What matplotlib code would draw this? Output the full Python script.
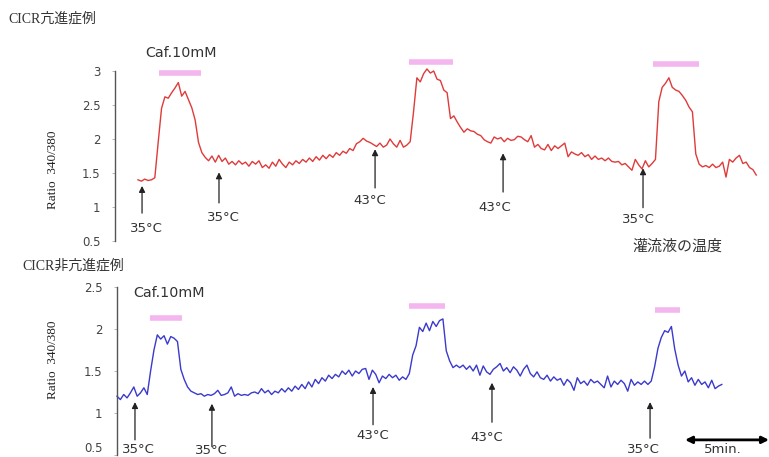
import numpy as np
import matplotlib
matplotlib.use("Agg")
import matplotlib.pyplot as plt

# ---------------- data ----------------
sample_interval_min = 0.2
top_start_min = 1.37
bottom_start_min = 0.0

top_ratio = [
    1.40, 1.38, 1.41, 1.39, 1.40, 1.43, 1.95, 2.45, 2.62, 2.60,
    2.68, 2.75, 2.83, 2.63, 2.70, 2.58, 2.46, 2.28, 1.95, 1.80,
    1.73, 1.68, 1.75, 1.66, 1.76, 1.67, 1.72, 1.63, 1.67, 1.62,
    1.68, 1.63, 1.66, 1.60, 1.67, 1.63, 1.68, 1.58, 1.62, 1.57,
    1.66, 1.60, 1.70, 1.63, 1.58, 1.66, 1.62, 1.68, 1.64, 1.70,
    1.66, 1.72, 1.67, 1.74, 1.69, 1.76, 1.71, 1.77, 1.73, 1.80,
    1.76, 1.82, 1.79, 1.86, 1.83, 1.93, 1.96, 2.01, 1.97, 1.95,
    1.92, 1.89, 1.94, 1.88, 1.91, 2.00, 1.93, 1.88, 1.98, 1.88,
    1.91, 1.96, 2.40, 2.90, 2.84, 2.96, 3.03, 2.97, 3.00, 2.88,
    2.86, 2.72, 2.68, 2.30, 2.34, 2.25, 2.17, 2.10, 2.15, 2.12,
    2.11, 2.07, 2.05, 1.99, 1.96, 1.94, 2.03, 2.00, 2.02, 1.96,
    2.01, 1.98, 1.99, 2.04, 2.03, 1.99, 1.96, 2.05, 1.88, 1.92,
    1.86, 1.84, 1.92, 1.83, 1.90, 1.86, 1.90, 1.94, 1.74, 1.81,
    1.78, 1.76, 1.80, 1.74, 1.77, 1.70, 1.75, 1.70, 1.72, 1.68,
    1.72, 1.67, 1.66, 1.67, 1.62, 1.64, 1.59, 1.54, 1.70, 1.62,
    1.56, 1.68, 1.59, 1.64, 1.70, 2.55, 2.76, 2.82, 2.90, 2.76,
    2.72, 2.70, 2.64, 2.57, 2.47, 2.40, 1.78, 1.63, 1.59, 1.61,
    1.58, 1.63, 1.58, 1.60, 1.66, 1.44, 1.70, 1.66, 1.72, 1.76,
    1.64, 1.66, 1.58, 1.55, 1.47,
]

bottom_ratio = [
    1.20, 1.16, 1.22, 1.18, 1.24, 1.31, 1.20, 1.24, 1.30, 1.22,
    1.50, 1.75, 1.93, 1.88, 1.92, 1.82, 1.91, 1.89, 1.85, 1.52,
    1.40, 1.31, 1.26, 1.24, 1.22, 1.23, 1.20, 1.22, 1.21, 1.23,
    1.27, 1.21, 1.22, 1.24, 1.31, 1.20, 1.23, 1.21, 1.22, 1.21,
    1.24, 1.25, 1.23, 1.29, 1.24, 1.27, 1.22, 1.26, 1.24, 1.29,
    1.25, 1.30, 1.26, 1.32, 1.28, 1.34, 1.29, 1.37, 1.31, 1.40,
    1.35, 1.42, 1.38, 1.45, 1.41, 1.46, 1.43, 1.50, 1.46, 1.51,
    1.44, 1.50, 1.47, 1.52, 1.53, 1.40, 1.51, 1.46, 1.36, 1.44,
    1.41, 1.46, 1.42, 1.45, 1.39, 1.43, 1.40, 1.47, 1.69, 1.80,
    2.02, 1.97, 2.07, 1.98, 2.09, 2.03, 2.10, 2.12, 1.74, 1.62,
    1.54, 1.57, 1.54, 1.57, 1.52, 1.56, 1.50, 1.57, 1.45, 1.56,
    1.49, 1.46, 1.52, 1.55, 1.59, 1.50, 1.54, 1.48, 1.55, 1.51,
    1.44, 1.52, 1.57, 1.47, 1.43, 1.49, 1.42, 1.40, 1.45, 1.38,
    1.43, 1.39, 1.41, 1.33, 1.40, 1.36, 1.27, 1.42, 1.35, 1.38,
    1.33, 1.40, 1.36, 1.38, 1.34, 1.30, 1.44, 1.31, 1.38, 1.34,
    1.39, 1.35, 1.26, 1.40, 1.33, 1.37, 1.34, 1.38, 1.34, 1.38,
    1.55, 1.77, 1.90, 1.98, 1.96, 2.03, 1.76, 1.57, 1.44, 1.50,
    1.37, 1.42, 1.33, 1.40, 1.34, 1.37, 1.30, 1.39, 1.29, 1.32,
    1.34,
]

top_ticks = [0.5, 1, 1.5, 2, 2.5, 3]
top_tick_labels = ["0.5", "1", "1.5", "2", "2.5", "3"]
bottom_ticks = [0.5, 1, 1.5, 2, 2.5]
bottom_tick_labels = ["0.5", "1", "1.5", "2", "2.5"]

# caffeine application bars (start, end minutes)
top_caf = [(2.62, 5.12), (17.5, 20.12), (32.02, 34.76)]
top_caf_level = [2.97, 3.13, 3.10]
bottom_caf = [(1.96, 3.87), (17.38, 19.52), (32.02, 33.51)]
bottom_caf_level = [2.13, 2.27, 2.23]

# temperature change markers: (time, label)
top_temps = [(1.61, "35°C"), (6.19, "35°C"), (15.48, "43°C"), (23.10, "43°C"), (31.43, "35°C")]
bottom_temps = [(1.07, "35°C"), (5.65, "35°C"), (15.24, "43°C"), (22.32, "43°C"), (31.73, "35°C")]

title_top = "CICR亢進症例"
title_bottom = "CICR非亢進症例"
ylabel = "Ratio  340/380"
caf_label = "Caf.10mM"
temp_note = "灌流液の温度"
scale_label = "5min."
scale_minutes = 5

# ---------------- figure ----------------
W, H = 769, 457
fig = plt.figure(figsize=(W / 100, H / 100), dpi=100)

px_per_min = 16.8


def make_axes(left_px, top_px, bottom_px, ylim):
    ax = fig.add_axes([left_px / W, 1 - bottom_px / H,
                       (W - left_px) / W, (bottom_px - top_px) / H])
    ax.set_xlim(0, (W - left_px) / px_per_min)
    ax.set_ylim(*ylim)
    for s in ["top", "right", "bottom"]:
        ax.spines[s].set_visible(False)
    ax.spines["left"].set_color("#555555")
    ax.spines["left"].set_linewidth(1.0)
    ax.set_xticks([])
    ax.tick_params(axis="y", direction="out", length=2.5, width=0.6,
                   color="#aaaaaa", pad=8, labelsize=8.5, labelcolor="#444444")
    ax.patch.set_alpha(0)
    return ax


ax1 = make_axes(115, 71, 241, (0.5, 3.0))
ax2 = make_axes(117, 287, 455, (0.5, 2.5))

ax1.set_yticks(top_ticks)
ax1.set_yticklabels(top_tick_labels)
ax2.set_yticks(bottom_ticks)
ax2.set_yticklabels(bottom_tick_labels)
ax2.get_yticklabels()[0].set_va("bottom")

t_top = top_start_min + sample_interval_min * np.arange(len(top_ratio))
t_bot = bottom_start_min + sample_interval_min * np.arange(len(bottom_ratio))

ax1.plot(t_top, top_ratio, color="#e03a3a", lw=1.0, clip_on=False)
ax2.plot(t_bot, bottom_ratio, color="#3a3acc", lw=1.0, clip_on=False)

pink = "#f4b6ee"
for (a, b), lvl in zip(top_caf, top_caf_level):
    ax1.plot([a, b], [lvl, lvl], color=pink, lw=4, solid_capstyle="butt", clip_on=False)
for (a, b), lvl in zip(bottom_caf, bottom_caf_level):
    ax2.plot([a, b], [lvl, lvl], color=pink, lw=4, solid_capstyle="butt", clip_on=False)

txt_kw = dict(fontsize=9.5, color="#333333", family="DejaVu Sans")
arrow_kw = dict(arrowstyle="-|>", color="#222222", lw=0.9, mutation_scale=9,
                shrinkA=0, shrinkB=0)

# top arrows: tip, tail, label position
top_tip = [1.31, 1.51, 1.85, 1.79, 1.57]
top_tail = [0.91, 1.06, 1.28, 1.22, 0.99]
top_lab_y = [0.69, 0.84, 1.10, 0.99, 0.82]
top_lab_dx = [0.29, 0.24, -0.30, -0.48, -0.30]
for (t, lab), tip, tail, ly, dx in zip(top_temps, top_tip, top_tail, top_lab_y, top_lab_dx):
    ax1.annotate("", xy=(t, tip), xytext=(t, tail), arrowprops=arrow_kw,
                 annotation_clip=False)
    ax1.text(t + dx, ly, lab, ha="center", va="center", clip_on=False, **txt_kw)

bot_tip = [1.13, 1.11, 1.31, 1.36, 1.13]
bot_tail = [0.68, 0.60, 0.86, 0.89, 0.70]
bot_lab_y = [0.57, 0.55, 0.73, 0.71, 0.56]
bot_lab_dx = [0.18, 0.0, 0.0, -0.30, -0.42]
for (t, lab), tip, tail, ly, dx in zip(bottom_temps, bot_tip, bot_tail, bot_lab_y, bot_lab_dx):
    ax2.annotate("", xy=(t, tip), xytext=(t, tail), arrowprops=arrow_kw,
                 annotation_clip=False)
    ax2.text(t + dx, ly, lab, ha="center", va="center", clip_on=False, **txt_kw)

ax1.text(3.93, 3.26, caf_label, ha="center", va="center", clip_on=False,
         fontsize=10.3, color="#333333", family="DejaVu Sans")
ax2.text(3.10, 2.43, caf_label, ha="center", va="center", clip_on=False,
         fontsize=10.3, color="#333333", family="DejaVu Sans")

ax1.text(33.45, 0.41, temp_note, ha="center", va="center", fontsize=10.8,
         color="#333333", family=["Noto Sans CJK JP", "DejaVu Sans"], clip_on=False)

# scale bar
sb_start = 33.81
ax2.annotate("", xy=(sb_start, 0.68), xytext=(sb_start + scale_minutes, 0.68),
             arrowprops=dict(arrowstyle="<|-|>", color="black", lw=2.0,
                             mutation_scale=10, shrinkA=0, shrinkB=0),
             annotation_clip=False)
ax2.text(sb_start + scale_minutes / 2 - 0.24, 0.565, scale_label, ha="center", va="center",
         clip_on=False, **txt_kw)

# y labels
for ax, yc in [(ax1, 170), (ax2, 360)]:
    fig.text(53 / W, 1 - yc / H, ylabel, rotation=90, ha="center", va="center",
             fontsize=9.5, family="Liberation Serif", color="#222222")

# titles
fig.text(8 / W, 1 - 19 / H, title_top, ha="left", va="center", fontsize=10,
         family=["Liberation Serif", "Noto Sans CJK JP"], color="#333333")
fig.text(22 / W, 1 - 266 / H, title_bottom, ha="left", va="center", fontsize=10,
         family=["Liberation Serif", "Noto Sans CJK JP"], color="#333333")

fig.savefig("out.png", dpi=100)
